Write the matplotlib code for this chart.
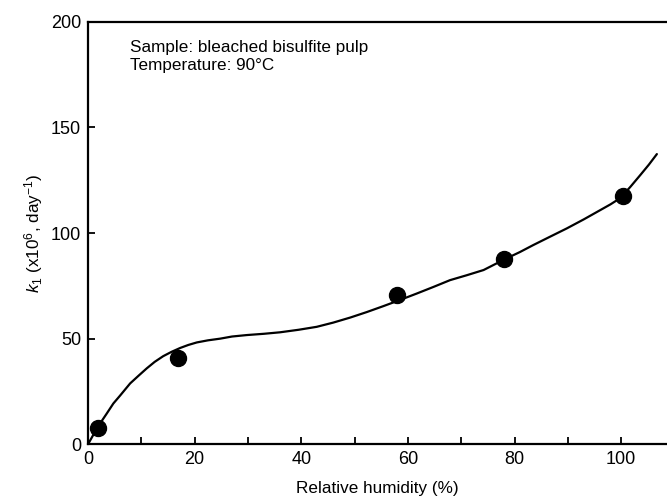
import matplotlib
matplotlib.use("Agg")
import matplotlib.pyplot as plt
from matplotlib.ticker import FixedLocator

plt.rcParams['font.family'] = ['Liberation Sans', 'DejaVu Sans']
plt.rcParams['mathtext.fontset'] = 'custom'
plt.rcParams['mathtext.rm'] = 'Liberation Sans'
plt.rcParams['mathtext.it'] = 'Liberation Sans:italic'

# measured data points
rh_points = [1.9, 16.9, 58.0, 78.0, 100.4]
k1_points = [7.6, 40.8, 70.6, 87.7, 117.6]

# fitted curve
rh_curve = [0.0, 1.0, 2.25, 3.5, 4.75, 6.0, 7.9, 9.5, 11.0, 12.5, 14.1,
            15.7, 17.3, 18.8, 20.4, 22.5, 24.8, 27.0, 29.8, 33.0, 36.0,
            39.5, 42.9, 46.0, 49.2, 52.3, 55.4, 58.5, 61.7, 64.8, 67.9,
            71.0, 74.2, 76.3, 78.5, 81.0, 83.5, 86.6, 89.8, 93.0, 96.1,
            98.0, 99.8, 101.7, 103.6, 105.2, 106.7]
k1_curve = [0.0, 4.5, 9.8, 14.5, 19.3, 23.0, 28.8, 32.5, 35.9, 39.0, 41.7,
            43.8, 45.6, 47.0, 48.2, 49.2, 50.0, 51.0, 51.7, 52.3, 53.0,
            54.2, 55.6, 57.6, 60.0, 62.6, 65.4, 68.3, 71.4, 74.5, 77.7,
            80.0, 82.5, 85.2, 88.0, 91.0, 94.3, 98.2, 102.2, 106.5, 110.9,
            113.6, 116.5, 121.8, 127.5, 132.4, 137.4]

x_major = [0, 20, 40, 60, 80, 100]
x_minor = [10, 30, 50, 70, 90]
y_major = [0, 50, 100, 150, 200]

fig = plt.figure(figsize=(6.67, 4.98), dpi=100)
ax = fig.add_axes([0.132, 0.108, 0.868, 0.848])

ax.plot(rh_curve, k1_curve, color='black', lw=1.6, solid_capstyle='round',
        solid_joinstyle='round')
ax.plot(rh_points, k1_points, 'o', color='black', ms=11.5, clip_on=False)

ax.set_xlim(0, 108.6)
ax.set_ylim(0, 200)
ax.xaxis.set_major_locator(FixedLocator(x_major))
ax.xaxis.set_minor_locator(FixedLocator(x_minor))
ax.yaxis.set_major_locator(FixedLocator(y_major))

ax.tick_params(axis='both', which='both', direction='in', length=5, width=1.3,
               labelsize=13, colors='black')
ax.tick_params(axis='x', pad=5)
ax.tick_params(axis='y', pad=5)

for s in ['left', 'bottom', 'top']:
    ax.spines[s].set_linewidth(1.6)
ax.spines['right'].set_visible(False)

ax.set_xlabel('Relative humidity (%)', fontsize=12.3, labelpad=9)
ax.set_ylabel(r'$k_1$ (x10$^6$, day$^{-1}$)', fontsize=12.3, labelpad=4)

ax.text(0.072, 0.958, 'Sample: bleached bisulfite pulp\nTemperature: 90\u00b0C',
        transform=ax.transAxes, fontsize=12.3, va='top', ha='left',
        linespacing=1.3)

fig.savefig('out.png', dpi=100)
